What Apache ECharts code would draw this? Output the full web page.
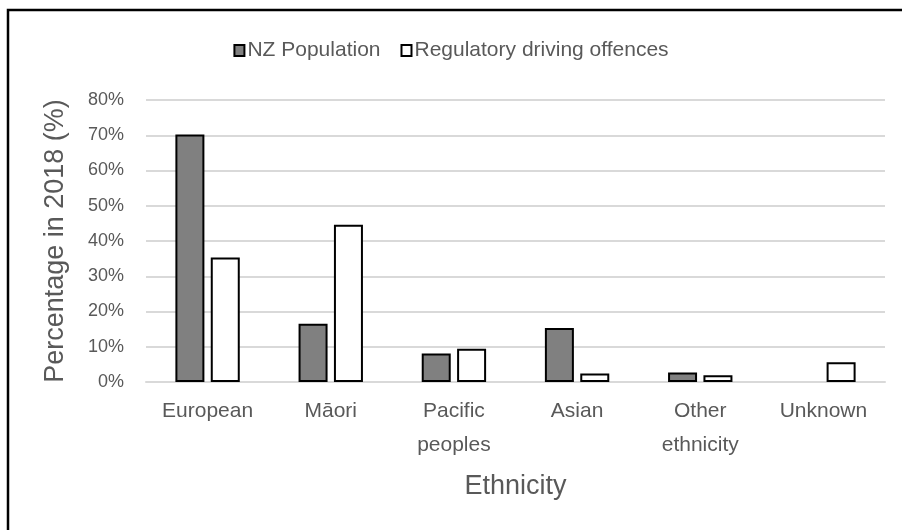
<!DOCTYPE html>
<html>
<head>
<meta charset="utf-8">
<script src="https://cdn.jsdelivr.net/npm/echarts@6/dist/echarts.min.js"></script>
<style>
  html, body { margin: 0; padding: 0; background: #fff; }
  #chart { width: 902px; height: 530px; }
</style>
</head>
<body>
<div id="chart"></div>
<script>
// Ethnic share of NZ population vs. regulatory driving offences, 2018
const categories = ['European', 'Māori', 'Pacific\npeoples', 'Asian', 'Other\nethnicity', 'Unknown'];
const nzPopulation = [70.2, 16.5, 8.1, 15.3, 2.7, null];
const drivingOffences = [35.3, 44.6, 9.4, 2.4, 1.9, 5.6];
const yTicks = [0, 10, 20, 30, 40, 50, 60, 70, 80];

const FONT = '"Liberation Sans", Arial, sans-serif';
const TEXT = '#595959';

const chart = echarts.init(document.getElementById('chart'), null, { renderer: 'canvas' });

chart.setOption({
  animation: false,
  backgroundColor: '#ffffff',
  textStyle: { fontFamily: FONT, color: TEXT },
  graphic: [{
    type: 'rect',
    shape: { x: 8, y: 10, width: 1000, height: 1000 },
    style: { fill: 'none', stroke: '#000', lineWidth: 2.5 },
    silent: true
  }],
  legend: {
    top: 35,
    left: 'center',
    itemWidth: 10,
    itemHeight: 11,
    itemGap: 20,
    icon: 'rect',
    textStyle: { fontFamily: FONT, fontSize: 21, color: TEXT, padding: [0, 0, 0, -2] },
    data: ['NZ Population', 'Regulatory driving offences']
  },
  grid: { left: 146, right: 17, top: 100, bottom: 148, containLabel: false },
  xAxis: {
    type: 'category',
    data: categories,
    name: 'Ethnicity',
    nameLocation: 'middle',
    nameGap: 91,
    nameTextStyle: { fontFamily: FONT, fontSize: 27, color: TEXT },
    axisLine: { lineStyle: { color: '#d9d9d9', width: 2 } },
    axisTick: { show: false },
    axisLabel: { fontFamily: FONT, fontSize: 21, color: TEXT, margin: 12, lineHeight: 34, interval: 0 }
  },
  yAxis: {
    type: 'value',
    min: yTicks[0],
    max: yTicks[yTicks.length - 1],
    interval: 10,
    name: 'Percentage in 2018 (%)',
    nameLocation: 'middle',
    nameGap: 77,
    nameTextStyle: { fontFamily: FONT, fontSize: 27, color: TEXT },
    axisLine: { show: false },
    axisTick: { show: false },
    axisLabel: { fontFamily: FONT, fontSize: 18, color: TEXT, margin: 22, formatter: '{value}%' },
    splitLine: { lineStyle: { color: '#d9d9d9', width: 2 } }
  },
  series: [
    {
      name: 'NZ Population',
      type: 'bar',
      data: nzPopulation,
      barWidth: 29,
      barGap: '22%',
      itemStyle: { color: '#808080', borderColor: '#000', borderWidth: 2 }
    },
    {
      name: 'Regulatory driving offences',
      type: 'bar',
      data: drivingOffences,
      barWidth: 29,
      barGap: '22%',
      itemStyle: { color: '#ffffff', borderColor: '#000', borderWidth: 2 }
    }
  ]
});
</script>
</body>
</html>
